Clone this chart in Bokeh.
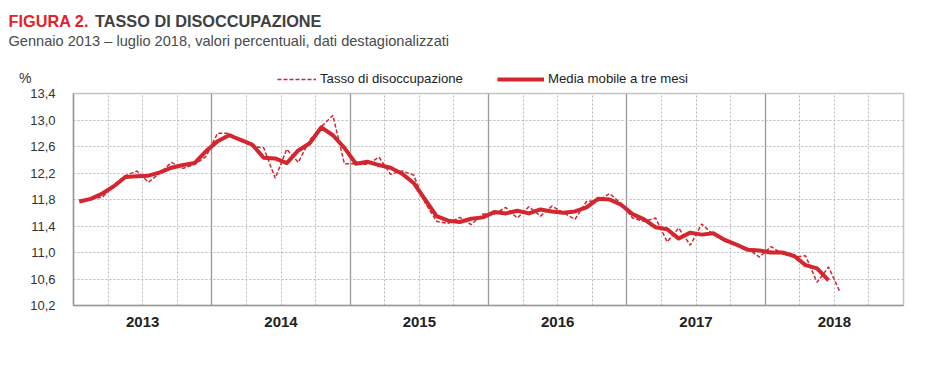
from bokeh.plotting import figure
from bokeh.layouts import column
from bokeh.models import FixedTicker, Label, Legend, LegendItem, Grid, Range1d, ColumnDataSource
from bokeh.embed import file_html
from bokeh.resources import INLINE

# ---------------- data ----------------
years = ["2013", "2014", "2015", "2016", "2017", "2018"]

rate_2013 = [11.78, 11.82, 11.83, 12.02, 12.16, 12.23, 12.06, 12.20, 12.36, 12.27, 12.33, 12.45]
rate_2014 = [12.80, 12.80, 12.70, 12.60, 12.58, 12.12, 12.56, 12.36, 12.70, 12.90, 13.07, 12.34]
rate_2015 = [12.34, 12.33, 12.44, 12.18, 12.23, 12.17, 11.75, 11.47, 11.44, 11.53, 11.42, 11.58]
rate_2016 = [11.58, 11.68, 11.52, 11.69, 11.55, 11.70, 11.60, 11.50, 11.77, 11.78, 11.89, 11.74]
rate_2017 = [11.52, 11.47, 11.52, 11.16, 11.37, 11.11, 11.43, 11.27, 11.17, 11.12, 11.06, 10.93]
rate_2018 = [11.09, 10.98, 10.93, 10.95, 10.55, 10.78, 10.40]

ma_2013 = [11.77, 11.81, 11.89, 12.00, 12.14, 12.15, 12.16, 12.21, 12.28, 12.32, 12.35, 12.53]
ma_2014 = [12.68, 12.77, 12.70, 12.63, 12.43, 12.42, 12.35, 12.54, 12.65, 12.89, 12.77, 12.58]
ma_2015 = [12.34, 12.37, 12.32, 12.28, 12.19, 12.05, 11.80, 11.55, 11.48, 11.46, 11.51, 11.53]
ma_2016 = [11.61, 11.59, 11.63, 11.59, 11.65, 11.62, 11.60, 11.62, 11.68, 11.81, 11.80, 11.72]
ma_2017 = [11.58, 11.50, 11.38, 11.35, 11.21, 11.30, 11.27, 11.29, 11.19, 11.12, 11.04, 11.03]
ma_2018 = [11.00, 11.00, 10.95, 10.81, 10.76, 10.58]

y_ticks = [10.2, 10.6, 11.0, 11.4, 11.8, 12.2, 12.6, 13.0, 13.4]
y_labels = ["10,2", "10,6", "11,0", "11,4", "11,8", "12,2", "12,6", "13,0", "13,4"]

series_names = ["Tasso di disoccupazione", "Media mobile a tre mesi"]

rate = rate_2013 + rate_2014 + rate_2015 + rate_2016 + rate_2017 + rate_2018
ma = ma_2013 + ma_2014 + ma_2015 + ma_2016 + ma_2017 + ma_2018

src_rate = ColumnDataSource(dict(x=[i + 0.5 for i in range(len(rate))], y=rate))
src_ma = ColumnDataSource(dict(x=[i + 0.5 for i in range(len(ma))], y=ma))

n_months = 12 * len(years)
year_bounds = list(range(0, n_months + 1, 12))
quarter_lines = [m for m in range(3, n_months, 3) if m % 12 != 0]
year_centres = [12 * k + 6 for k in range(len(years))]

# ---------------- style ----------------
FONT = "'Liberation Sans', Arial, sans-serif"
RED = "#d3262e"
TITLE_RED = "#e2232a"
DASH_W, SOLID_W = 1.5, 4

W = 913
HEAD_H = 86          # header strip (title, subtitle, %, legend)
MAIN_H = 271         # plot strip
FL, FR, FT, FB = 73, 10, 7, 52

# ---------------- header (pixel coordinates from the top-left) ----------------
head = figure(width=W, height=HEAD_H, output_backend="svg", toolbar_location=None,
              x_range=Range1d(0, W), y_range=Range1d(HEAD_H, 0),
              x_axis_type=None, y_axis_type=None,
              min_border=0, min_border_left=0, min_border_right=0,
              min_border_top=0, min_border_bottom=0)
head.frame_align = False
head.outline_line_color = None
head.background_fill_color = "white"
head.border_fill_color = "white"

def label(text, x, y, size, color, style="normal"):
    head.add_layout(Label(x=x, y=y, text=text, text_font=FONT, text_font_size=size,
                          text_color=color, text_font_style=style,
                          text_baseline="alphabetic", text_align="left"))

label("FIGURA 2.", 8, 20.7, "16.3px", TITLE_RED, "bold")
label("TASSO DI DISOCCUPAZIONE", 94.5, 20.7, "16.3px", "#404040", "bold")
label("Gennaio 2013 \u2013 luglio 2018, valori percentuali, dati destagionalizzati",
      8, 40, "14.6px", "#4a4a4a")
label("%", 18.5, 77, "14px", "#333333")

# legend-only renderers (no visible points: NaN placeholders)
nan = float("nan")
h_rate = head.line(x=[nan, nan], y=[nan, nan], line_color=RED, line_width=DASH_W, line_dash="4 2")
h_ma = head.line(x=[nan, nan], y=[nan, nan], line_color=RED, line_width=SOLID_W)

def legend(item_label, renderer, gw, x):
    lg = Legend(items=[LegendItem(label=item_label, renderers=[renderer])],
                location=(x, 0), orientation="horizontal",
                glyph_width=gw, glyph_height=14, label_height=14, label_standoff=4,
                padding=0, margin=0, spacing=0, border_line_color=None,
                background_fill_alpha=0, label_text_font=FONT,
                label_text_font_size="13.2px", label_text_color="#222222")
    head.add_layout(lg, "center")

legend(series_names[0], h_rate, 39, 277)
legend(series_names[1], h_ma, 47, 497)

# ---------------- main plot ----------------
p = figure(width=W, height=MAIN_H, output_backend="svg", toolbar_location=None,
           x_range=Range1d(0, n_months), y_range=Range1d(y_ticks[0], y_ticks[-1]),
           min_border_left=FL, min_border_right=FR, min_border_top=FT,
           min_border_bottom=FB)
p.background_fill_color = "white"
p.border_fill_color = "white"
p.outline_line_color = "#c4c4c4"
p.outline_line_width = 1.5

p.xgrid.ticker = FixedTicker(ticks=year_bounds)
p.xgrid.grid_line_color = "#9a9a9a"
p.xgrid.grid_line_width = 1.3
p.ygrid.ticker = FixedTicker(ticks=y_ticks)
p.ygrid.grid_line_color = "#b8b8b8"
p.ygrid.grid_line_dash = "2 2"
p.ygrid.grid_line_width = 1
p.add_layout(Grid(dimension=0, ticker=FixedTicker(ticks=quarter_lines),
                  grid_line_color="#b8b8b8", grid_line_dash="2 2", grid_line_width=1))

p.yaxis.ticker = FixedTicker(ticks=y_ticks)
p.yaxis.major_label_overrides = {t: l for t, l in zip(y_ticks, y_labels)}
p.yaxis.major_tick_line_color = None
p.yaxis.minor_tick_line_color = None
p.yaxis.axis_line_color = "#9a9a9a"
p.yaxis.axis_line_width = 1.5
p.yaxis.major_label_standoff = 12
p.yaxis.major_label_text_font = FONT
p.yaxis.major_label_text_font_size = "13px"
p.yaxis.major_label_text_color = "#333333"

p.xaxis.ticker = FixedTicker(ticks=year_centres)
p.xaxis.major_label_overrides = {c: y for c, y in zip(year_centres, years)}
p.xaxis.major_tick_line_color = None
p.xaxis.minor_tick_line_color = None
p.xaxis.axis_line_color = "#9a9a9a"
p.xaxis.axis_line_width = 1.5
p.xaxis.major_label_standoff = 5
p.xaxis.major_label_text_font = FONT
p.xaxis.major_label_text_font_size = "15px"
p.xaxis.major_label_text_font_style = "bold"
p.xaxis.major_label_text_color = "#222222"

p.line("x", "y", source=src_rate, line_color=RED, line_width=DASH_W, line_dash="4 2")
p.line("x", "y", source=src_ma, line_color=RED, line_width=SOLID_W, line_join="round")

layout = column(head, p, spacing=0)
open("out.html", "w").write(file_html(layout, INLINE))
